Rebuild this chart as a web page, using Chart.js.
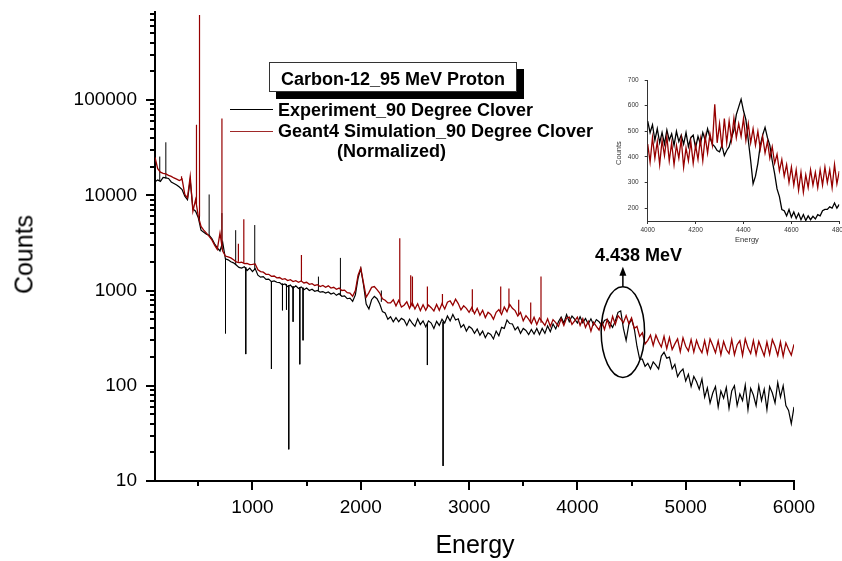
<!DOCTYPE html>
<html>
<head>
<meta charset="utf-8">
<script src="https://cdn.jsdelivr.net/npm/chart.js@4.4.1/dist/chart.umd.min.js"></script>
<style>
  html, body { margin: 0; padding: 0; background: #fff; overflow: hidden; }
  #wrap { position: relative; width: 842px; height: 561px; font-family: 'Liberation Sans', Arial, sans-serif; color: #000; }
  #mainChart { position: absolute; left: 0; top: 0; }
  #insetChart { position: absolute; left: 600px; top: 60px; }
  .txt { position: absolute; white-space: nowrap; }
  .bold18 { font-weight: bold; font-size: 18px; line-height: 18px; }
  .legendBox { position: absolute; left: 269px; top: 62px; width: 248px; height: 30px; box-sizing: border-box;
               border: 1px solid #333; background: #fff; box-shadow: 7px 7px 0 #000; }
  .legendLine { position: absolute; left: 230px; width: 43px; height: 1.5px; }
  .axisTitle { font-size: 25px; line-height: 25px; text-align: center; }
  .insetTitle { font-size: 7.5px; line-height: 8px; text-align: center; color: #333; }
</style>
</head>
<body>
<div id="wrap">
  <canvas id="mainChart" width="842" height="561"></canvas>
  <canvas id="insetChart" width="262" height="200"></canvas>

  <div class="legendBox"></div>
  <div class="txt bold18" style="left:269px; width:248px; text-align:center; top:69.5px;">Carbon-12_95 MeV Proton</div>
  <div class="legendLine" style="top:108.5px; background:#000;"></div>
  <div class="txt bold18" style="left:278px; top:100.5px;">Experiment_90 Degree Clover</div>
  <div class="legendLine" style="top:130.5px; background:#a02828;"></div>
  <div class="txt bold18" style="left:278px; top:122px;">Geant4 Simulation_90 Degree Clover</div>
  <div class="txt bold18" style="left:337px; top:142px;">(Normalized)</div>
  <div class="txt bold18" style="left:595px; top:246px;">4.438 MeV</div>

  <div class="txt axisTitle" style="left:375px; width:200px; top:531.5px;">Energy</div>
  <div class="txt axisTitle" style="left:-36px; width:120px; top:242px; transform:rotate(-90deg);">Counts</div>
  <div class="txt insetTitle" style="left:589px; width:60px; top:149px; transform:rotate(-90deg);">Counts</div>
  <div class="txt insetTitle" style="left:717px; width:60px; top:236px;">Energy</div>
</div>

<script>
// ── Main spectrum: channel grid (keV) ──
const E_START = 100;
const E_STEP  = 25;

// Experiment_90 Degree Clover, counts per channel from 100 to 6000 keV
const expCounts = [
  13900, 14500, 14000, 15400, 15200, 15000, 13800, 13300, 12800, 12200,
  11500, 9800, 9000, 14500, 7200, 6800, 5800, 4300, 4100, 3900,
  3800, 3500, 3100, 2800, 2600, 3200, 2150, 2100, 2000, 1950,
  1850, 1750, 1720, 1780, 1620, 1720, 1580, 1700, 1450, 1380,
  1400, 1310, 1320, 1240, 1260, 1220, 1210, 1150, 1170, 1100,
  1140, 1060, 1120, 1050, 1090, 1020, 1060, 1000, 1030, 980,
  1000, 960, 975, 940, 965, 920, 945, 890, 930, 870,
  880, 820, 830, 770, 900, 1350, 1700, 1150, 720, 640,
  800, 870, 820, 720, 600, 580, 500, 530, 470, 520,
  470, 510, 490, 430, 500, 455, 420, 505, 440, 480,
  415, 480, 455, 400, 475, 430, 500, 455, 540, 480,
  560, 490, 505, 410, 440, 375, 420, 400, 355, 395,
  340, 375, 320, 360, 345, 310, 375, 335, 410, 400,
  490, 450, 445, 385, 415, 355, 400, 380, 345, 390,
  350, 400, 345, 400, 355, 425, 370, 445, 395, 470,
  525, 455, 560, 470, 540, 500, 455, 530, 460, 510,
  445, 505, 435, 495, 470, 425, 485, 500, 455, 410,
  480, 590, 610, 400, 300, 440, 500, 400, 260, 190,
  190, 160, 172, 150, 178, 165, 150, 205, 225, 195,
  200, 150, 168, 125, 140, 150, 112, 132, 98, 125,
  110, 92, 118, 76, 95, 66, 84, 98, 60, 88,
  74, 96, 58, 88, 100, 62, 82, 70, 102, 56,
  94, 80, 62, 100, 70, 92, 56, 98, 84, 66,
  108, 76, 100, 62, 55, 40, 60,
];

// Geant4 Simulation_90 Degree Clover (normalized), same grid
const simCounts = [
  25000, 19000, 17500, 17000, 16800, 16200, 15800, 15200, 14800, 14300,
  14800, 10200, 9400, 15800, 6800, 9000, 6000, 4700, 4300, 4000,
  3700, 3400, 3000, 2700, 4000, 2600, 2300, 2250, 2200, 2100,
  2000, 1960, 1980, 1920, 1930, 1870, 1880, 1900, 1650, 1580,
  1560, 1480, 1480, 1410, 1420, 1360, 1370, 1310, 1330, 1270,
  1300, 1240, 1270, 1220, 1260, 1200, 1220, 1160, 1180, 1130,
  1150, 1100, 1130, 1080, 1120, 1060, 1080, 1030, 1060, 1000,
  1010, 950, 940, 870, 1000, 1450, 1720, 1200, 850, 950,
  1080, 1100, 1020, 940, 820, 790, 740, 740, 800, 690,
  790, 670, 700, 760, 650, 745, 640, 725, 615, 710,
  620, 705, 660, 610, 715, 620, 730, 640, 755, 780,
  700, 810, 730, 625, 690, 650, 590, 665, 570, 650,
  550, 620, 520, 590, 560, 500, 590, 630, 560, 670,
  600, 715, 650, 615, 540, 590, 480, 545, 500, 450,
  525, 440, 515, 470, 430, 505, 420, 495, 460, 420,
  505, 430, 515, 525, 440, 480, 525, 430, 505, 410,
  475, 375, 465, 420, 385, 475, 390, 495, 410, 535,
  440, 545, 500, 460, 545, 450, 515, 400, 420, 330,
  360, 275, 300, 340, 265, 340, 290, 255, 330, 245,
  320, 240, 275, 310, 228, 318, 260, 232, 305, 226,
  300, 250, 222, 298, 218, 310, 265, 222, 296, 212,
  292, 240, 218, 305, 212, 270, 298, 208, 310, 250,
  218, 298, 212, 292, 245, 206, 288, 214, 305, 260,
  208, 288, 204, 282, 240, 210, 272,
];

// narrow lines (up) and dips (down): energy, level beside the line, tip
const expSpikeE    = [144, 200, 511, 600, 718, 751, 845, 938, 1021, 1175, 1277, 1314, 1335, 1375, 1437, 1467, 1609, 1812, 2190, 2615, 2760];
const expSpikeBase = [14200, 15000, 5500, 3800, 2700, 2150, 1850, 1750, 1650, 1250, 1180, 1160, 1140, 1110, 1080, 1070, 990, 880, 760, 450, 470];
const expSpikeTip  = [25500, 36000, 40000, 10200, 6500, 355, 4300, 215, 4870, 150, 620, 630, 21.5, 470, 168, 300, 1400, 2200, 1000, 165, 14.4];

const simSpikeE    = [345, 483, 511, 718, 870, 920, 1452, 2360, 2461, 2477, 2615, 2754, 3030, 3292, 3368, 3458, 3569, 3664];
const simSpikeBase = [14800, 8000, 6000, 3000, 2000, 1950, 1250, 740, 690, 680, 660, 700, 600, 600, 660, 560, 470, 460];
const simSpikeTip  = [15800, 55000, 780000, 64000, 3100, 5600, 2360, 3530, 1450, 1400, 1100, 920, 1030, 1100, 1050, 800, 750, 1400];

// ── Inset: 4000-4800 keV, 10 keV channels ──
const INSET_START = 4000;
const INSET_STEP  = 10;
const insetExp = [
  540, 495, 525, 465, 510, 455, 495, 450, 505, 465,
  490, 445, 500, 460, 485, 450, 495, 440, 475, 485,
  435, 480, 450, 495, 465, 510, 475, 450, 440, 425,
  420, 445, 405, 425, 440, 475, 505, 565, 595, 625,
  580, 545, 465, 385, 295, 325, 375, 445, 485, 515,
  475, 445, 385, 335, 275, 245, 195, 190, 170, 195,
  165, 185, 160, 180, 155, 175, 152, 170, 155, 168,
  158, 175, 170, 190, 195, 195, 205, 200, 220, 200,
  215,
];
const insetSim = [
  450, 380, 475, 395, 460, 370, 465, 405, 480, 385,
  455, 370, 445, 395, 470, 360, 435, 385, 460, 375,
  445, 390, 470, 385, 480, 415, 490, 445, 605, 455,
  530, 435, 550, 455, 540, 465, 550, 475, 530, 480,
  550, 465, 530, 455, 510, 445, 500, 430, 480, 415,
  460, 395, 440, 375, 410, 345, 390, 325, 370, 300,
  360, 290, 350, 270, 340, 262, 330, 280, 350, 290,
  340, 280, 350, 290, 360, 300, 350, 280, 370, 295,
  345,
];

// ── Ticks ──
const xTickValues   = [1000, 2000, 3000, 4000, 5000, 6000];
const xMinorTicks   = [500, 1500, 2500, 3500, 4500, 5500];
const yTickValues   = [10, 100, 1000, 10000, 100000];
const yMinorFactors = [2, 3, 4, 5, 6, 7, 8, 9];
const insetXTicks   = [4000, 4200, 4400, 4600, 4800];
const insetYTicks   = [200, 300, 400, 500, 600, 700];

// marked 4.438 MeV region (centre of the ellipse, in data units)
const markEnergy = 4420;
const markCounts = 366;

const EXP_COLOR = '#000000';
const SIM_COLOR = '#960000';

Chart.defaults.font.family = "'Liberation Sans', Arial, sans-serif";
Chart.defaults.color = '#000';

const gridPoints  = (start, step, ys) => ys.map((y, i) => ({ x: start + i * step, y }));
const spikePoints = (es, base, tip) =>
  es.flatMap((e, i) => [{ x: e, y: base[i] }, { x: e, y: tip[i] }, { x: e, y: null }]);

// the label at the end of an axis does not need room outside the plot
const noEndPadding = s => { s.paddingTop = 0; s.paddingBottom = 0; };

// minor ticks, ellipse and arrow on the main chart
const mainDecor = {
  id: 'mainDecor',
  afterDraw(chart) {
    const { ctx, chartArea, scales: { x, y } } = chart;
    ctx.save();
    ctx.strokeStyle = '#000';
    ctx.lineWidth = 2;
    ctx.beginPath();
    xMinorTicks.forEach(v => {
      const px = Math.round(x.getPixelForValue(v));
      ctx.moveTo(px, chartArea.bottom);
      ctx.lineTo(px, chartArea.bottom + 5);
    });
    yTickValues.forEach(d => yMinorFactors.forEach(m => {
      const v = d * m;
      if (v > y.max) return;
      const py = Math.round(y.getPixelForValue(v));
      ctx.moveTo(chartArea.left, py);
      ctx.lineTo(chartArea.left - 5, py);
    }));
    ctx.stroke();

    // ellipse round the 4.438 MeV line
    const cx = x.getPixelForValue(markEnergy);
    const cy = y.getPixelForValue(markCounts);
    const rx = 21.7, ry = 45.3;
    ctx.lineWidth = 1.5;
    ctx.beginPath();
    ctx.ellipse(cx, cy, rx, ry, 0, 0, Math.PI * 2);
    ctx.stroke();

    // arrow up to the label
    const tipY = cy - ry - 20;
    ctx.beginPath();
    ctx.moveTo(cx, cy - ry);
    ctx.lineTo(cx, tipY + 7);
    ctx.stroke();
    ctx.fillStyle = '#000';
    ctx.beginPath();
    ctx.moveTo(cx, tipY);
    ctx.lineTo(cx - 3.5, tipY + 9);
    ctx.lineTo(cx + 3.5, tipY + 9);
    ctx.closePath();
    ctx.fill();
    ctx.restore();
  }
};

new Chart(document.getElementById('mainChart'), {
  type: 'line',
  data: {
    datasets: [
      {
        label: 'Experiment_90 Degree Clover',
        data: gridPoints(E_START, E_STEP, expCounts),
        borderColor: EXP_COLOR, borderWidth: 1.2, order: 2,
      },
      {
        label: 'exp lines',
        data: spikePoints(expSpikeE, expSpikeBase, expSpikeTip),
        borderColor: EXP_COLOR, borderWidth: 1, order: 3,
      },
      {
        label: 'Geant4 Simulation_90 Degree Clover',
        data: gridPoints(E_START, E_STEP, simCounts),
        borderColor: SIM_COLOR, borderWidth: 1.3, order: 0,
      },
      {
        label: 'sim lines',
        data: spikePoints(simSpikeE, simSpikeBase, simSpikeTip),
        borderColor: SIM_COLOR, borderWidth: 1.2, order: 1,
      },
    ],
  },
  options: {
    responsive: false,
    animation: false,
    devicePixelRatio: 1,
    spanGaps: false,
    elements: { point: { radius: 0 }, line: { tension: 0 } },
    layout: { padding: { top: 12, right: 48, left: 0, bottom: 0 } },
    plugins: { legend: { display: false }, tooltip: { enabled: false } },
    scales: {
      x: {
        type: 'linear', min: 100, max: 6000,
        afterBuildTicks: s => { s.ticks = xTickValues.map(value => ({ value })); },
        afterFit: s => { s.height = 80; },
        grid: { drawOnChartArea: false, drawTicks: true, tickLength: 9, color: '#000', lineWidth: 2 },
        border: { display: true, color: '#000', width: 2 },
        ticks: { font: { size: 19 }, color: '#000', padding: 6, maxRotation: 0, autoSkip: false,
                 callback: v => String(v) },
      },
      y: {
        type: 'logarithmic', min: 10, max: 840000,
        afterBuildTicks: s => { s.ticks = yTickValues.map(value => ({ value })); },
        afterFit: s => { s.width = 155; noEndPadding(s); },
        grid: { drawOnChartArea: false, drawTicks: true, tickLength: 9, color: '#000', lineWidth: 2 },
        border: { display: true, color: '#000', width: 2 },
        ticks: { font: { size: 19 }, color: '#000', padding: 9, autoSkip: false,
                 callback: v => String(v) },
      },
    },
  },
  plugins: [mainDecor],
});

// ── Inset ──
new Chart(document.getElementById('insetChart'), {
  type: 'line',
  data: {
    datasets: [
      {
        label: 'Experiment',
        data: gridPoints(INSET_START, INSET_STEP, insetExp),
        borderColor: EXP_COLOR, borderWidth: 1.3, order: 1,
      },
      {
        label: 'Simulation',
        data: gridPoints(INSET_START, INSET_STEP, insetSim),
        borderColor: SIM_COLOR, borderWidth: 1.3, order: 0,
      },
    ],
  },
  options: {
    responsive: false,
    animation: false,
    devicePixelRatio: 1,
    elements: { point: { radius: 0 }, line: { tension: 0 } },
    layout: { padding: { top: 20, right: 22.7, left: 0, bottom: 0 } },
    plugins: { legend: { display: false }, tooltip: { enabled: false } },
    scales: {
      x: {
        type: 'linear', min: 4000, max: 4800,
        afterBuildTicks: s => { s.ticks = insetXTicks.map(value => ({ value })); },
        afterFit: s => { s.height = 39; },
        grid: { drawOnChartArea: false, drawTicks: true, tickLength: 3, color: '#333', lineWidth: 1 },
        border: { display: true, color: '#333', width: 1 },
        ticks: { font: { size: 6.5 }, color: '#333', padding: 2, maxRotation: 0, autoSkip: false,
                 callback: v => String(v) },
      },
      y: {
        type: 'linear', min: 150, max: 700,
        afterBuildTicks: s => { s.ticks = insetYTicks.map(value => ({ value })); },
        afterFit: s => { s.width = 47.7; noEndPadding(s); },
        grid: { drawOnChartArea: false, drawTicks: true, tickLength: 3, color: '#333', lineWidth: 1 },
        border: { display: true, color: '#333', width: 1 },
        ticks: { font: { size: 6.5 }, color: '#333', padding: 6, autoSkip: false,
                 callback: v => String(v) },
      },
    },
  },
});
</script>
</body>
</html>
